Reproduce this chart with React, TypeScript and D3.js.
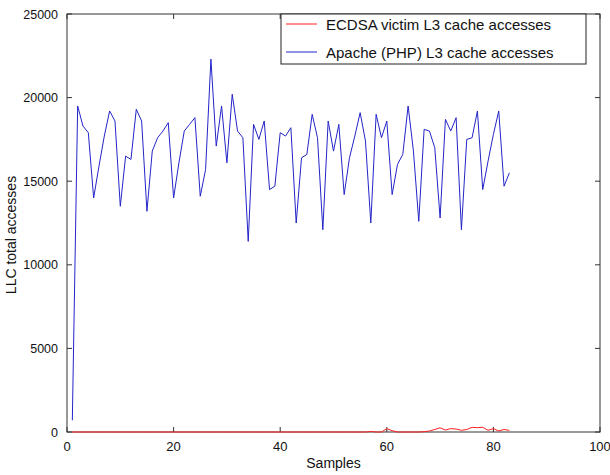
import * as d3 from "d3";

const blueValues = [
  700, 19500, 18300, 17900, 14000, 15900, 17700, 19200, 18600, 13500,
  16500, 16300, 19300, 18600, 13200, 16800, 17600, 18000, 18500, 14000,
  16100, 18000, 18400, 18800, 14100, 15700, 22300, 17100, 19500, 16100,
  20200, 18000, 17600, 11400, 18400, 17500, 18600, 14500, 14700, 17900,
  17700, 18200, 12500, 16400, 16600, 19000, 17600, 12100, 18600, 16800,
  18400, 14200, 16400, 17700, 19100, 17400, 12500, 19000, 17600, 18600,
  14200, 16000, 16600, 19500, 16800, 12600, 18100, 18000, 17000, 12800,
  18700, 18000, 18800, 12100, 17500, 17600, 19200, 14500, 16200, 17800,
  19200, 14700, 15500,
];

const redValues = [
  0, 0, 0, 0, 0, 0, 0, 0, 0, 0,
  0, 0, 0, 0, 0, 0, 0, 0, 0, 0,
  0, 0, 0, 0, 0, 0, 0, 0, 0, 0,
  0, 0, 0, 0, 0, 0, 0, 0, 0, 0,
  0, 0, 0, 0, 0, 0, 0, 0, 0, 0,
  0, 0, 0, 0, 0, 0, 30, 0, 0, 200,
  80, 0, 0, 0, 0, 0, 20, 60, 150, 250,
  120, 200, 180, 100, 150, 280, 260, 280, 100, 200,
  60, 150, 100,
];

const xTicks = [0, 20, 40, 60, 80, 100];
const yTicks = [0, 5000, 10000, 15000, 20000, 25000];
const legendLabels = ["ECDSA victim L3 cache accesses", "Apache (PHP) L3 cache accesses"];
const legendColors = ["#ff2020", "#2424c8"];

const W = 610;
const H = 475;
const margin = { top: 14, right: 10, bottom: 43, left: 67 };
const font = "'Liberation Sans', Arial, Helvetica, sans-serif";

export default function App() {
  const x = d3.scaleLinear().domain([0, 100]).range([margin.left, W - margin.right]);
  const y = d3.scaleLinear().domain([0, 25000]).range([H - margin.bottom, margin.top]);

  const line = d3
    .line<number>()
    .x((_, i) => x(i + 1))
    .y((d) => y(d));

  const left = x(0);
  const right = x(100);
  const top = y(25000);
  const bottom = y(0);
  const tickLen = 5;

  return (
    <svg
      width={W}
      height={H}
      style={{ position: "absolute", left: 0, top: 0, background: "#fff" }}
      fontFamily={font}
    >
      {/* axes box */}
      <rect x={left} y={top} width={right - left} height={bottom - top} fill="none" stroke="#333" strokeWidth={1} />

      {xTicks.map((t) => (
        <g key={"x" + t}>
          <line x1={x(t)} x2={x(t)} y1={bottom} y2={bottom - tickLen} stroke="#333" />
          <line x1={x(t)} x2={x(t)} y1={top} y2={top + tickLen} stroke="#333" />
          <text x={x(t)} y={bottom + 19} textAnchor="middle" fontSize={13} fill="#111">
            {t}
          </text>
        </g>
      ))}

      {yTicks.map((t) => (
        <g key={"y" + t}>
          <line x1={left} x2={left + tickLen} y1={y(t)} y2={y(t)} stroke="#333" />
          <line x1={right} x2={right - tickLen} y1={y(t)} y2={y(t)} stroke="#333" />
          <text x={left - 9} y={y(t) + 4.5} textAnchor="end" fontSize={12.5} fill="#111">
            {t}
          </text>
        </g>
      ))}

      <path d={line(blueValues) ?? ""} fill="none" stroke={legendColors[1]} strokeWidth={1} />
      <path d={line(redValues) ?? ""} fill="none" stroke={legendColors[0]} strokeWidth={1} />

      <text x={(left + right) / 2} y={H - 7} textAnchor="middle" fontSize={14} fill="#111">
        Samples
      </text>
      <text
        transform={`translate(16, ${(top + bottom) / 2 + 12}) rotate(-90)`}
        textAnchor="middle"
        fontSize={14}
        fill="#111"
      >
        LLC total accesses
      </text>

      {/* legend */}
      <g>
        <rect x={281} y={top} width={305} height={50} fill="#fff" stroke="#222" strokeWidth={1} />
        {legendLabels.map((lab, i) => (
          <g key={lab}>
            <line x1={286} x2={317} y1={top + 10 + i * 28} y2={top + 10 + i * 28} stroke={legendColors[i]} strokeWidth={1} />
            <text x={326} y={top + 15.5 + i * 28} fontSize={15} fill="#111">
              {lab}
            </text>
          </g>
        ))}
      </g>
    </svg>
  );
}
